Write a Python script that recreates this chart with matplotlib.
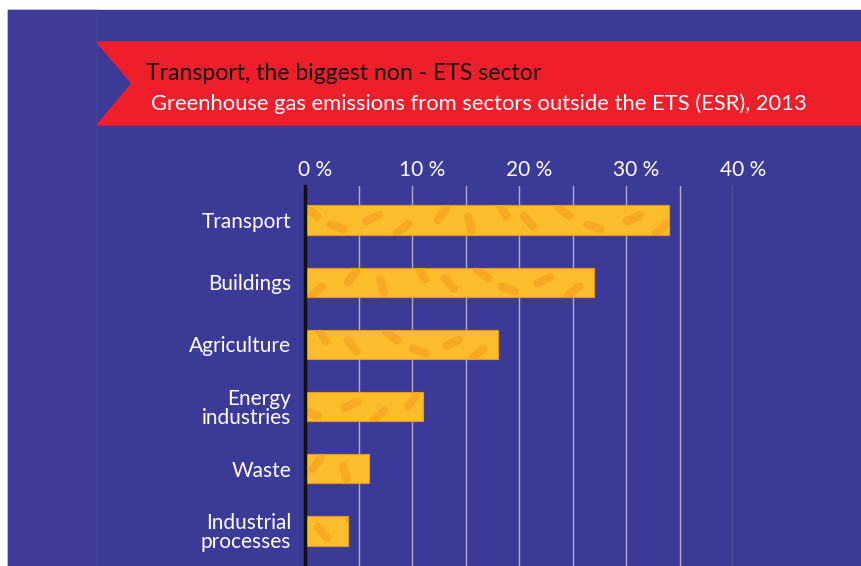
import matplotlib.pyplot as plt
import numpy as np
from matplotlib.patches import Polygon, Rectangle
from matplotlib.transforms import ScaledTranslation

# ESR sector shares, 2013 (% of non-ETS greenhouse gas emissions)
sectors = ["Transport", "Buildings", "Agriculture", "Energy\nindustries",
           "Waste", "Industrial\nprocesses"]
shares = [34, 27, 18, 11, 6, 4]
tick_vals = [0, 10, 20, 30, 40]
tick_labels = ["0 %", "10 %", "20 %", "30 %", "40 %"]

title = "Transport, the biggest non - ETS sector"
subtitle = "Greenhouse gas emissions from sectors outside the ETS (ESR), 2013"

BLUE = "#3c3a97"
BLUE_SIDE = "#3f3d99"
RED = "#ee1f2a"
YELLOW = "#fbbd2b"
ORANGE = "#f7a41f"
GRID = "#aeadd0"
FONT = ["Lato", "DejaVu Sans"]

W, H = 861, 566
fig = plt.figure(figsize=(W / 100, H / 100), dpi=100, facecolor="white")

# background panels (pixel coords converted to figure fractions)
def px_rect(x0, y0, x1, y1, color, z):
    fig.patches.append(Rectangle((x0 / W, 1 - y1 / H), (x1 - x0) / W, (y1 - y0) / H,
                                 transform=fig.transFigure, color=color, zorder=z))

px_rect(8, 10, W, H, BLUE, -3)
px_rect(8, 10, 97, H, BLUE_SIDE, -2)

# red ribbon with a notch on the left
ribbon = [(97, 42), (W, 42), (W, 125), (97, 125), (132, 83.5)]
fig.patches.append(Polygon([(x / W, 1 - y / H) for x, y in ribbon], closed=True,
                           transform=fig.transFigure, color=RED, zorder=-1))
fig.text(146 / W, 1 - 73 / H, title, color="#111111", fontsize=16.6,
         family=FONT, va="center", ha="left")
fig.text(151 / W, 1 - 104 / H, subtitle, color="white", fontsize=15.8,
         family=FONT, va="center", ha="left")

# chart area: 0 % at x=305px, 40 % at x=733px, top at y=186px
ax = fig.add_axes([305 / W, 0, (733 - 305) / W, (H - 186) / H])
ax.set_zorder(2)
ax.set_facecolor("none")
ax.set_xlim(0, 40)
step = 62.2
ax.set_ylim((H - 220) / step, (186 - 220) / step)

y = np.arange(len(sectors))
bars = ax.barh(y, shares, height=0.47, color=YELLOW, edgecolor="#e69a1f",
               linewidth=0.8, zorder=3)

# orange dash texture inside each bar
px_x = (733 - 305) / 40.0
angles = [35, 140, 60, 20, 125, 50, 155, 75]
offs = [-0.13, 0.11, -0.03, 0.14, -0.09, 0.06, -0.15, 0.02]
gaps = [2.4, 3.3, 2.8, 3.7, 2.6, 3.1]
for i, (bar, val) in enumerate(zip(bars, shares)):
    cx = 0.6 + 0.5 * (i % 3)
    k = 0
    while cx < val + 1:
        cy = i + offs[(k + 3 * i) % len(offs)]
        a = np.deg2rad(angles[(k * 3 + i) % len(angles)])
        dx = 7 * np.cos(a) / px_x
        dy = 7 * np.sin(a) / step
        ln, = ax.plot([cx - dx, cx + dx], [cy - dy, cy + dy], color=ORANGE,
                      lw=6, solid_capstyle="round", alpha=0.8, zorder=4)
        ln.set_clip_path(bar)
        cx += gaps[(k + i) % len(gaps)]
        k += 1

ax.set_xticks(np.arange(0, 41, 5), minor=True)
ax.grid(axis="x", which="both", color=GRID, lw=1, zorder=1)
ax.set_axisbelow(True)

ax.xaxis.tick_top()
ax.set_xticks(tick_vals, tick_labels)
ax.tick_params(axis="x", which="both", length=0, pad=4, labelsize=15,
               labelcolor="white")
shift = ScaledTranslation(10 / 100, 0, fig.dpi_scale_trans)
for lab in ax.get_xticklabels():
    lab.set_transform(lab.get_transform() + shift)
    lab.set_family(FONT)

ax.set_yticks(y, sectors)
ax.tick_params(axis="y", length=0, pad=10, labelsize=15, labelcolor="white")
for lab in ax.get_yticklabels():
    lab.set_family(FONT)
    lab.set_linespacing(0.95)

for s in ["top", "right", "bottom"]:
    ax.spines[s].set_visible(False)
ax.spines["left"].set_color("#111111")
ax.spines["left"].set_linewidth(2.5)
ax.spines["left"].set_zorder(5)

fig.savefig("out.png", dpi=100, facecolor="white")
